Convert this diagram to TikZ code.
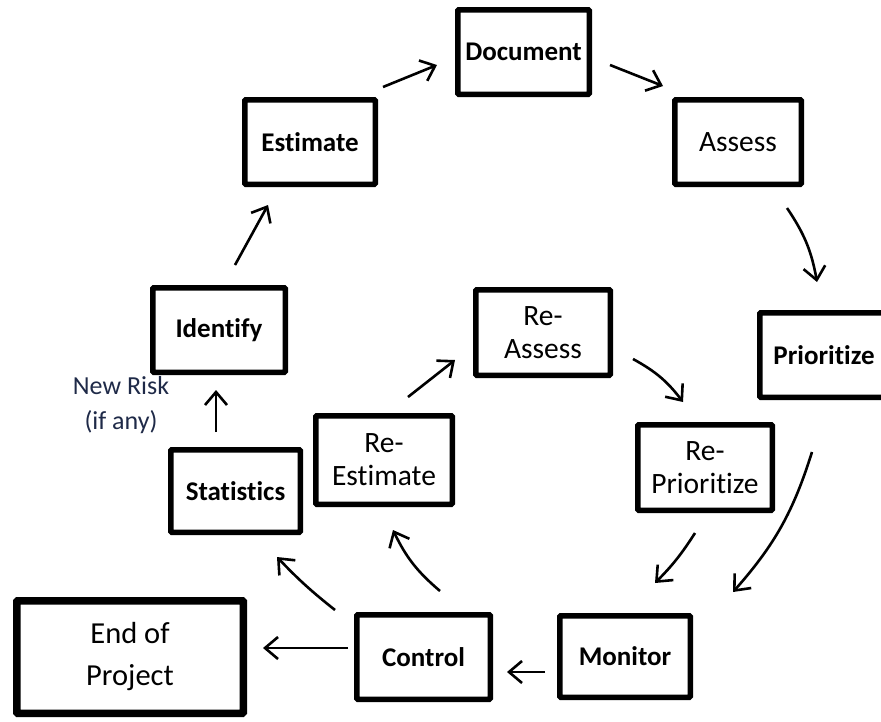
\documentclass[tikz,border=0pt]{standalone}
\usepackage{fontspec}
\setmainfont{Carlito}[Ligatures=NoCommon,Contextuals=NoAlternate]
\usetikzlibrary{arrows.meta}
\definecolor{risknavy}{HTML}{1F2A48}

\begin{document}
\begin{tikzpicture}[x=1pt,y=-1pt,>={Straight Barb[length=13pt,width=22pt]},
    box/.style={draw,line width=5.5pt,rounded corners=1pt,inner sep=0pt,align=center},
    heavy/.style={box,font=\fontsize{27}{33}\selectfont\bfseries},
    plain/.style={box,font=\fontsize{29.5}{33}\selectfont},
    arr/.style={->,line width=2.6pt}]
  \useasboundingbox (0,0) rectangle (881,721);
  % outer cycle
  \node[heavy,minimum width=131.5pt,minimum height=84.5pt] (doc) at (523.5,52) {Document};
  \node[plain,minimum width=126.5pt,minimum height=84.5pt] (assess) at (738,142) {Assess};
  \node[heavy,minimum width=128.5pt,minimum height=84.5pt] (prio) at (824,355) {Prioritize};
  \node[heavy,minimum width=130.5pt,minimum height=81.5pt] (mon) at (625,656.5) {Monitor};
  \node[heavy,minimum width=133.5pt,minimum height=84.5pt] (ctrl) at (423.5,657) {Control};
  \node[heavy,minimum width=129.5pt,minimum height=82.5pt] (stats) at (235.5,491) {Statistics};
  \node[heavy,minimum width=132.5pt,minimum height=84.5pt] (ident) at (219,330) {Identify};
  \node[heavy,minimum width=130.5pt,minimum height=84.5pt] (est) at (310,142) {Estimate};
  % inner cycle
  \node[plain,minimum width=136.5pt,minimum height=88.5pt] (reest) at (384,460) {Re-\\Estimate};
  \node[plain,minimum width=134.5pt,minimum height=85.5pt] (reassess) at (543,332.5) {Re-\\Assess};
  \node[plain,minimum width=134.5pt,minimum height=85.5pt] (reprio) at (705,467.5) {Re-\\Prioritize};
  % exit
  \node[box,line width=7.5pt,minimum width=226.5pt,minimum height=112.5pt,
    font=\fontsize{30.5}{42}\selectfont] (finish) at (130,657) {End of\\Project};
  \node[risknavy,align=center,font=\fontsize{26}{35}\selectfont] (newrisk) at (121,405) {New Risk\\(if any)};
  % outer arrows
  \draw[arr] ([shift={(5,-10)}]est.north east) -- ([shift={(-18,13)}]doc.west);
  \draw[arr] ([shift={(18,13)}]doc.east) -- ([shift={(-9,-11)}]assess.north west);
  \draw[arr] ([shift={(-17,21)}]assess.south east) to[bend left=12] ([shift={(-7,-28)}]prio.north);
  \draw[arr] ([shift={(-12,52)}]prio.south) to[bend left=12] ([shift={(40,-21)}]mon.north east);
  \draw[arr] ([shift={(-12,15.5)}]mon.west) -- ([shift={(14,15)}]ctrl.east);
  \draw[arr] ([shift={(-19,-2)}]ctrl.north west) to[bend left=4] ([shift={(-26,22)}]stats.south east);
  \draw[arr] ([shift={(-19.5,-15)}]stats.north) -- ([shift={(-3,15)}]ident.south);
  \draw[arr] ([shift={(16,-20)}]ident.north) -- ([shift={(-42,18)}]est.south);
  \draw[arr] ([shift={(-6,-9)}]ctrl.west) -- ([shift={(16,-9)}]finish.east);
  % inner arrows
  \draw[arr] ([shift={(16.5,-21)}]ctrl.north) to[bend left=12] ([shift={(9,23)}]reest.south);
  \draw[arr] ([shift={(24,-16)}]reest.north) -- ([shift={(-18,27.5)}]reassess.west);
  \draw[arr] ([shift={(20,26.5)}]reassess.east) to[bend left=12] ([shift={(-22,-20)}]reprio.north);
  \draw[arr] ([shift={(-10,20)}]reprio.south) to[bend left=6] ([shift={(30,-30)}]mon.north);
\end{tikzpicture}
\end{document}
